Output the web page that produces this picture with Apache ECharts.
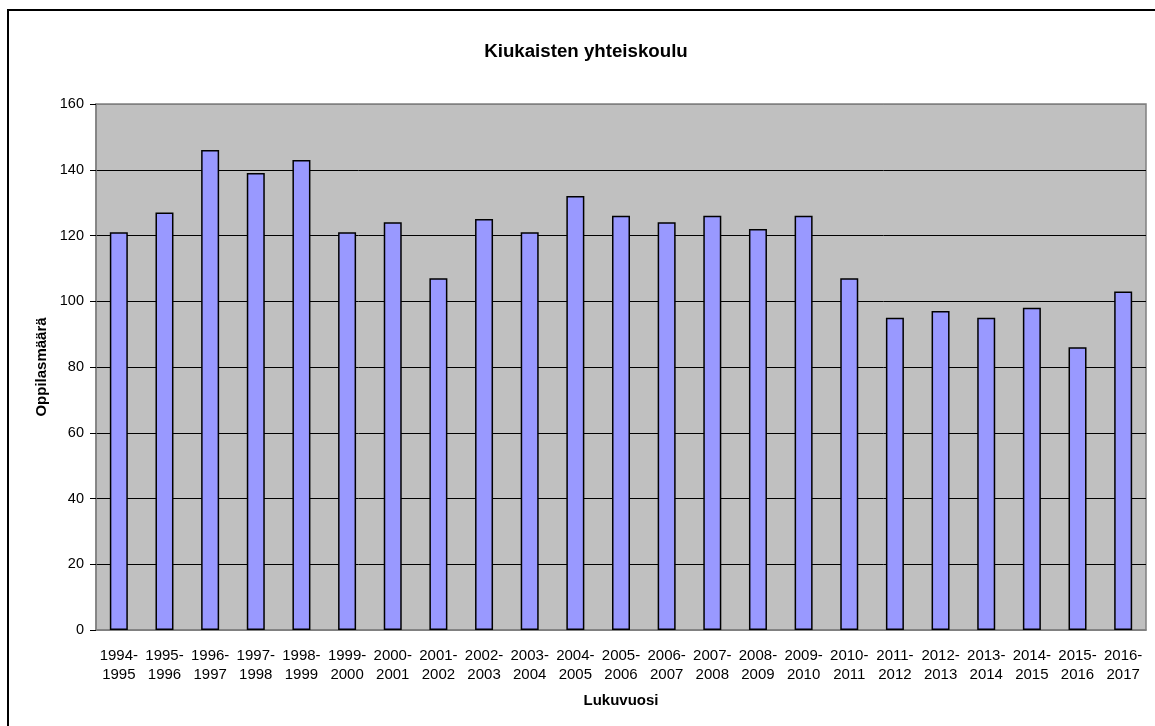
<!DOCTYPE html>
<html>
<head>
<meta charset="utf-8">
<script src="https://cdn.jsdelivr.net/npm/echarts@6/dist/echarts.min.js"></script>
<style>
html,body{margin:0;padding:0;background:#fff;}
#main{width:1155px;height:726px;}
</style>
</head>
<body>
<div id="main"></div>
<script>
var years = ['1994-\n1995','1995-\n1996','1996-\n1997','1997-\n1998','1998-\n1999','1999-\n2000',
	'2000-\n2001','2001-\n2002','2002-\n2003','2003-\n2004','2004-\n2005','2005-\n2006',
	'2006-\n2007','2007-\n2008','2008-\n2009','2009-\n2010','2010-\n2011','2011-\n2012',
	'2012-\n2013','2013-\n2014','2014-\n2015','2015-\n2016','2016-\n2017'];
var students = [121,127,146,139,143,121,124,107,125,121,132,126,124,126,122,126,107,95,97,95,98,86,103];
var yTicks = [0,20,40,60,80,100,120,140,160];

var chart = echarts.init(document.getElementById('main'));
var font = 'Liberation Sans, Arial, sans-serif';

var option = {
	animation: false,
	backgroundColor: '#fff',
	title: {
		text: 'Kiukaisten yhteiskoulu',
		left: 581,
		top: 37,
		textAlign: 'center',
		textStyle: {fontFamily: font, fontSize: 18.7, fontWeight: 'bold', color: '#000'}
	},
	graphic: [{
		type: 'rect',
		shape: {x: 8, y: 10, width: 1300, height: 900},
		style: {fill: 'none', stroke: '#000', lineWidth: 2}
	}],
	grid: {
		left: 96, right: 9, top: 104, bottom: 96,
		show: true,
		backgroundColor: '#C0C0C0',
		borderColor: '#808080',
		borderWidth: 1.5
	},
	xAxis: {
		type: 'category',
		data: years,
		name: 'Lukuvuosi',
		nameLocation: 'middle',
		nameGap: 63,
		nameTextStyle: {fontFamily: font, fontSize: 15, fontWeight: 'bold', color: '#000'},
		axisLine: {lineStyle: {color: '#808080', width: 1.5}},
		axisTick: {length: 6, lineStyle: {color: '#000'}},
		axisLabel: {
			interval: 0,
			margin: 16,
			fontFamily: font, fontSize: 15, color: '#000', lineHeight: 19
		}
	},
	yAxis: {
		type: 'value',
		min: yTicks[0],
		max: yTicks[yTicks.length - 1],
		interval: 20,
		name: 'Oppilasmäärä',
		nameLocation: 'middle',
		nameGap: 47,
		nameTextStyle: {fontFamily: font, fontSize: 15, fontWeight: 'bold', color: '#000'},
		axisLine: {show: true, lineStyle: {color: '#808080', width: 1.5}},
		axisTick: {show: true, length: 6, lineStyle: {color: '#000'}},
		axisLabel: {fontFamily: font, fontSize: 14.5, color: '#000', margin: 12},
		splitLine: {
			show: true,
			lineStyle: {
				color: ['#808080','#000','#000','#000','#000','#000','#000','#000','#808080'],
				width: 1
			}
		}
	},
	series: [{
		type: 'bar',
		data: students,
		barWidth: 18,
		itemStyle: {color: '#9999FF', borderColor: '#000', borderWidth: 1.5}
	}]
};

chart.setOption(option);
</script>
</body>
</html>
